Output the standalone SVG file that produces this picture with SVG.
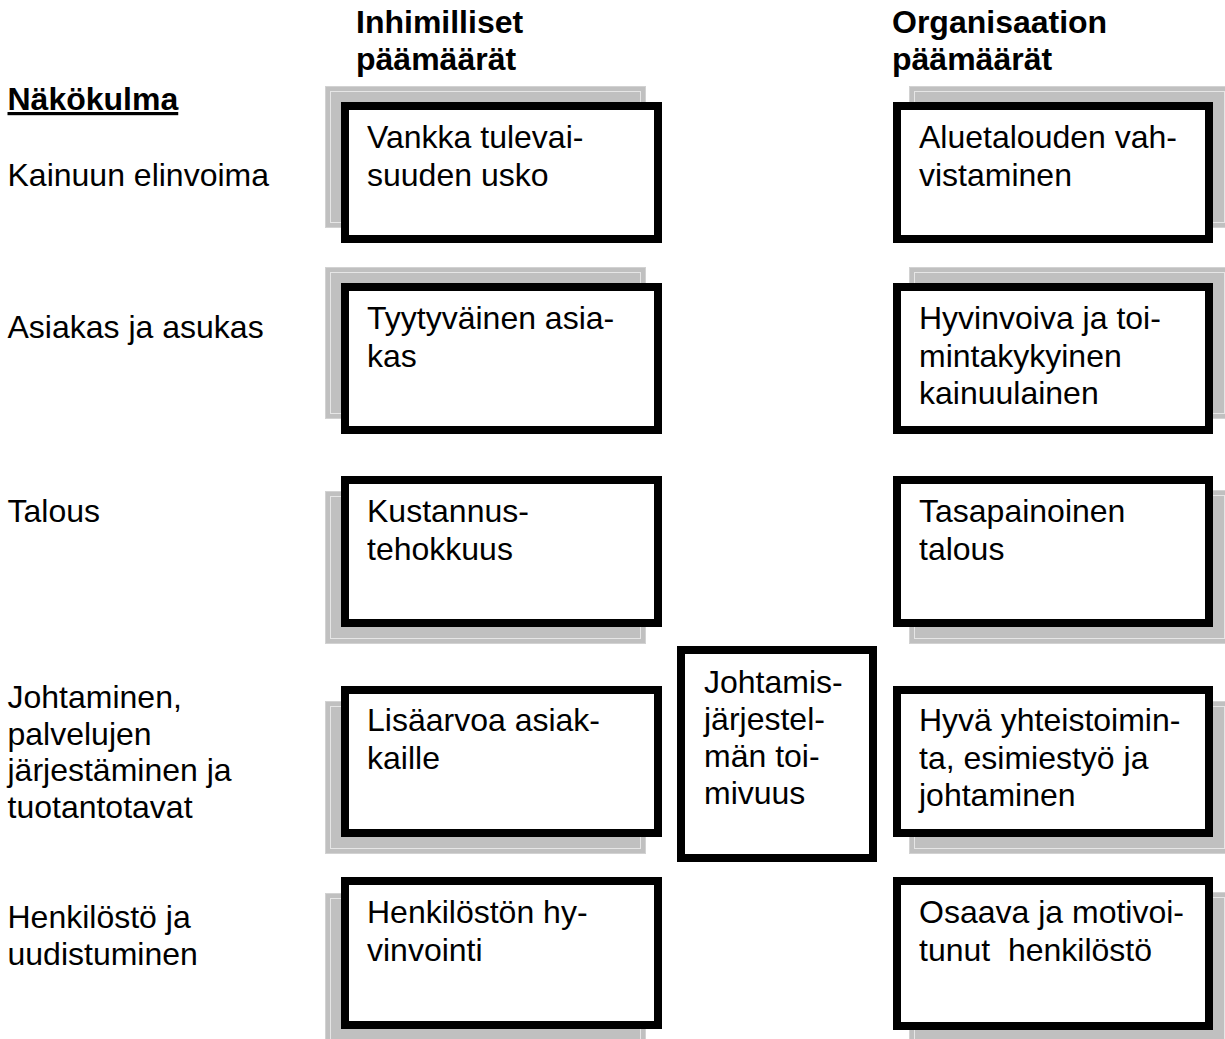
<svg xmlns="http://www.w3.org/2000/svg" width="1225" height="1039" viewBox="0 0 1225 1039">
<defs>
<style>
text{font-family:"Liberation Sans",Arial,sans-serif;font-size:32px;fill:#000}
.b{font-weight:bold}
.sh{fill:#c0c0c0;stroke:#d2d2d2;stroke-width:1}
.hl{fill:none;stroke:#e6e6e6;stroke-width:1}
.bx{fill:#fff;stroke:#000;stroke-width:8}
</style>
</defs>
<rect width="1225" height="1039" fill="#fff"/>
<g id="headers">
<text class="b" x="356" y="33">Inhimilliset</text>
<text class="b" x="356" y="70">päämäärät</text>
<text class="b" x="892" y="33">Organisaation</text>
<text class="b" x="892" y="70">päämäärät</text>
</g>
<g id="perspectives">
<text class="b" x="7.5" y="110" text-decoration="underline">Näkökulma</text>
<text x="7.5" y="186">Kainuun elinvoima</text>
<text x="7.5" y="338">Asiakas ja asukas</text>
<text x="7.5" y="522">Talous</text>
<text x="7.5" y="708">Johtaminen,<tspan x="7.5" dy="36.5">palvelujen</tspan><tspan x="7.5" dy="36.5">järjestäminen ja</tspan><tspan x="7.5" dy="36.5">tuotantotavat</tspan></text>
<text x="7.5" y="928">Henkilöstö ja<tspan x="7.5" dy="37">uudistuminen</tspan></text>
</g>
<g id="connectors"></g>
<g id="h1">
<rect class="sh" x="325.5" y="86.5" width="320" height="141"/><rect class="hl" x="330.5" y="91.5" width="310" height="131"/>
<rect class="bx" x="345" y="106" width="313" height="133"/>
<text x="367" y="148">Vankka tulevai-<tspan x="367" dy="37.5">suuden usko</tspan></text>
</g>
<g id="h2">
<rect class="sh" x="325.5" y="267.5" width="320" height="151"/><rect class="hl" x="330.5" y="272.5" width="310" height="141"/>
<rect class="bx" x="345" y="287" width="313" height="143"/>
<text x="367" y="329">Tyytyväinen asia-<tspan x="367" dy="37.5">kas</tspan></text>
</g>
<g id="h3">
<rect class="sh" x="325.5" y="491.5" width="320" height="152"/><rect class="hl" x="330.5" y="496.5" width="310" height="142"/>
<rect class="bx" x="345" y="480" width="313" height="143"/>
<text x="367" y="522">Kustannus-<tspan x="367" dy="37.5">tehokkuus</tspan></text>
</g>
<g id="h4">
<rect class="sh" x="325.5" y="701.5" width="320" height="152"/><rect class="hl" x="330.5" y="706.5" width="310" height="142"/>
<rect class="bx" x="345" y="690" width="313" height="143"/>
<text x="367" y="731">Lisäarvoa asiak-<tspan x="367" dy="37.5">kaille</tspan></text>
</g>
<g id="h5">
<rect class="sh" x="325.5" y="893.5" width="320" height="152"/><rect class="hl" x="330.5" y="898.5" width="310" height="142"/>
<rect class="bx" x="345" y="881" width="313" height="144"/>
<text x="367" y="923">Henkilöstön hy-<tspan x="367" dy="37.5">vinvointi</tspan></text>
</g>
<g id="o1">
<rect class="sh" x="909.5" y="86.5" width="320" height="141"/><rect class="hl" x="914.5" y="91.5" width="310" height="131"/>
<rect class="bx" x="897" y="106" width="312" height="133"/>
<text x="919" y="148">Aluetalouden vah-<tspan x="919" dy="37.5">vistaminen</tspan></text>
</g>
<g id="o2">
<rect class="sh" x="909.5" y="267.5" width="320" height="151"/><rect class="hl" x="914.5" y="272.5" width="310" height="141"/>
<rect class="bx" x="897" y="287" width="312" height="143"/>
<text x="919" y="329">Hyvinvoiva ja toi-<tspan x="919" dy="37.5">mintakykyinen</tspan><tspan x="919" dy="37.5">kainuulainen</tspan></text>
</g>
<g id="o3">
<rect class="sh" x="909.5" y="490.5" width="320" height="153"/><rect class="hl" x="914.5" y="495.5" width="310" height="143"/>
<rect class="bx" x="897" y="480" width="312" height="143"/>
<text x="919" y="522">Tasapainoinen<tspan x="919" dy="37.5">talous</tspan></text>
</g>
<g id="o4">
<rect class="sh" x="909.5" y="701.5" width="320" height="152"/><rect class="hl" x="914.5" y="706.5" width="310" height="142"/>
<rect class="bx" x="897" y="690" width="312" height="143"/>
<text x="919" y="731">Hyvä yhteistoimin-<tspan x="919" dy="37.5">ta, esimiestyö ja</tspan><tspan x="919" dy="37.5">johtaminen</tspan></text>
</g>
<g id="o5">
<rect class="sh" x="909.5" y="892.5" width="320" height="153"/><rect class="hl" x="914.5" y="897.5" width="310" height="143"/>
<rect class="bx" x="897" y="881" width="312" height="145"/>
<text x="919" y="923" xml:space="preserve">Osaava ja motivoi-<tspan x="919" dy="37.5">tunut  henkilöstö</tspan></text>
</g>
<g id="center">
<rect class="bx" x="681" y="650" width="192" height="208"/>
<text x="704" y="693">Johtamis-<tspan x="704" dy="37">järjestel-</tspan><tspan x="704" dy="37">män toi-</tspan><tspan x="704" dy="37">mivuus</tspan></text>
</g>
</svg>
